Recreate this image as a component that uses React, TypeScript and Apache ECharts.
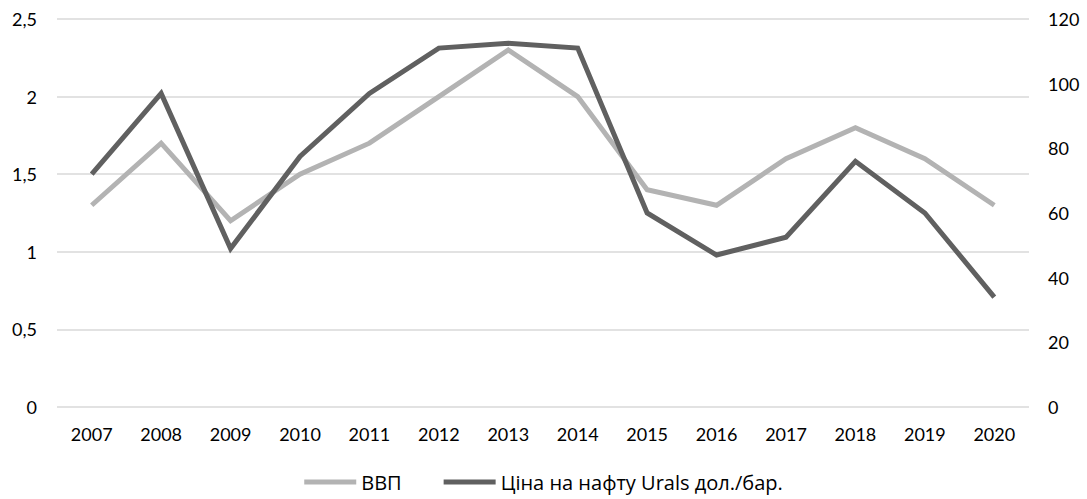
import React, { useEffect, useRef } from "react";
import * as echarts from "echarts";

const years = ["2007", "2008", "2009", "2010", "2011", "2012", "2013", "2014", "2015", "2016", "2017", "2018", "2019", "2020"];
const gdp = [1.3, 1.7, 1.2, 1.5, 1.7, 2.0, 2.3, 2.0, 1.4, 1.3, 1.6, 1.8, 1.6, 1.3];
const oil = [72, 97, 49, 77.5, 97, 111, 112.5, 111, 60, 47, 52.5, 76, 60, 34];
const seriesNames = ["ВВП", "Ціна на нафту Urals дол./бар."];

export default function App() {
  const ref = useRef<HTMLDivElement>(null);
  useEffect(() => {
    if (!ref.current) return;
    const chart = echarts.init(ref.current, null, { renderer: "svg" });
    const font = "Lato, 'Open Sans', sans-serif";
    const legendFont = "'Open Sans', sans-serif";
    chart.setOption({
      animation: false,
      textStyle: { fontFamily: font },
      grid: { left: 57, right: 58, top: 19, bottom: 92, containLabel: false },
      legend: {
        top: 467,
        left: "center",
        itemWidth: 52,
        itemHeight: 5,
        itemGap: 42,
        icon: "rect",
        textStyle: { fontSize: 20, color: "#000", fontFamily: legendFont },
        data: seriesNames,
      },
      xAxis: {
        type: "category",
        data: years,
        boundaryGap: true,
        axisLine: { show: false },
        axisTick: { show: false },
        axisLabel: { fontSize: 18, color: "#000", margin: 18, fontFamily: font },
      },
      yAxis: [
        {
          type: "value",
          min: 0,
          max: 2.5,
          interval: 0.5,
          axisLine: { show: false },
          axisTick: { show: false },
          axisLabel: {
            fontSize: 18,
            color: "#000",
            margin: 20,
            fontFamily: font,
            formatter: (v: number) => String(v).replace(".", ","),
          },
          splitLine: { show: true, lineStyle: { color: "#d9d9d9", width: 1.5 } },
        },
        {
          type: "value",
          min: 0,
          max: 120,
          interval: 20,
          axisLine: { show: false },
          axisTick: { show: false },
          axisLabel: { fontSize: 18, color: "#000", margin: 19, fontFamily: font },
          splitLine: { show: false },
        },
      ],
      series: [
        {
          name: seriesNames[0],
          type: "line",
          data: gdp,
          yAxisIndex: 0,
          symbol: "none",
          lineStyle: { color: "#b3b3b3", width: 5, join: "miter" },
          itemStyle: { color: "#b3b3b3" },
          z: 2,
        },
        {
          name: seriesNames[1],
          type: "line",
          data: oil,
          yAxisIndex: 1,
          symbol: "none",
          lineStyle: { color: "#606060", width: 5, join: "miter" },
          itemStyle: { color: "#606060" },
          z: 3,
        },
      ],
    });
    return () => chart.dispose();
  }, []);
  return <div ref={ref} style={{ width: 1087, height: 499, position: "absolute", left: 0, top: 0 }} />;
}
